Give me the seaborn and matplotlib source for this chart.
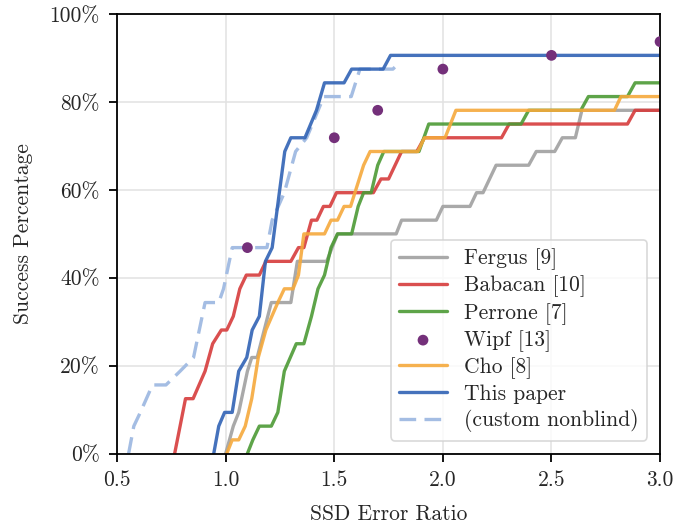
import matplotlib
matplotlib.use('Agg')
import matplotlib.pyplot as plt
import seaborn as sns
import numpy as np

# success percentage curves (corner points)
fergus_x = [1.00, 1.035, 1.06, 1.10, 1.12, 1.145, 1.21, 1.30, 1.33, 1.465, 1.515, 1.785, 1.81, 1.97, 2.0,
            2.125, 2.155, 2.185, 2.245, 2.395, 2.43, 2.515, 2.55, 2.61, 2.64, 3.0]
fergus_y = [0, 6.25, 9.375, 18.75, 21.875, 21.875, 34.375, 34.375, 43.75, 43.75, 50, 50, 53.125, 53.125, 56.25,
            56.25, 59.375, 59.375, 65.625, 65.625, 68.75, 68.75, 71.875, 71.875, 78.125, 78.125]

babacan_x = [0.765, 0.815, 0.85, 0.905, 0.94, 0.98, 1.005, 1.035, 1.065, 1.095, 1.155, 1.185, 1.30, 1.335,
             1.36, 1.395, 1.42, 1.45, 1.48, 1.51, 1.68, 1.715, 1.75, 1.81, 1.88, 1.915, 2.27, 2.305, 2.85,
             2.885, 3.0]
babacan_y = [0, 12.5, 12.5, 18.75, 25, 28.125, 28.125, 31.25, 37.5, 40.625, 40.625, 43.75, 43.75, 46.875,
             46.875, 53.125, 53.125, 56.25, 56.25, 59.375, 59.375, 62.5, 62.5, 68.75, 68.75, 71.875, 71.875,
             75, 75, 78.125, 78.125]

perrone_x = [1.10, 1.125, 1.155, 1.21, 1.24, 1.27, 1.325, 1.36, 1.395, 1.425, 1.455, 1.485, 1.515, 1.58,
             1.61, 1.635, 1.67, 1.70, 1.728, 1.89, 1.935, 2.36, 2.395, 2.635, 2.67, 2.85, 2.885, 3.0]
perrone_y = [0, 3.125, 6.25, 6.25, 9.375, 18.75, 25, 25, 31.25, 37.5, 40.625, 46.875, 50, 50,
             56.25, 59.375, 59.375, 65.625, 68.75, 68.75, 75, 75, 78.125, 78.125, 81.25, 81.25, 84.375, 84.375]

wipf_x = [1.1, 1.5, 1.7, 2.0, 2.5, 3.0]
wipf_y = [46.875, 71.875, 78.125, 87.5, 90.625, 93.75]

cho_x = [1.005, 1.03, 1.06, 1.09, 1.12, 1.15, 1.185, 1.24, 1.27, 1.31, 1.335, 1.36, 1.455, 1.485, 1.515,
         1.545, 1.575, 1.635, 1.665, 1.885, 1.915, 2.01, 2.06, 2.79, 2.82, 3.0]
cho_y = [0, 3.125, 3.125, 6.25, 12.5, 21.875, 28.125, 34.375, 37.5, 37.5, 40.625, 50, 50, 53.125, 53.125,
         56.25, 56.25, 65.625, 68.75, 68.75, 71.875, 71.875, 78.125, 78.125, 81.25, 81.25]

ours_x = [0.945, 0.968, 0.995, 1.03, 1.06, 1.097, 1.122, 1.155, 1.183, 1.214, 1.247, 1.272, 1.30, 1.365,
          1.418, 1.455, 1.545, 1.58, 1.725, 1.759, 3.0]
ours_y = [0, 6.25, 9.375, 9.375, 18.75, 21.875, 28.125, 31.25, 43.75, 46.875, 59.375, 68.75, 71.875, 71.875,
          78.125, 84.375, 84.375, 87.5, 87.5, 90.625, 90.625]

custom_x = [0.553, 0.577, 0.607, 0.663, 0.725, 0.79, 0.852, 0.905, 0.968, 0.99, 1.03, 1.19, 1.214, 1.27,
            1.322, 1.373, 1.452, 1.578, 1.618, 1.77, 1.80]
custom_y = [0, 6.25, 9.375, 15.625, 15.625, 18.75, 21.875, 34.375, 34.375, 37.5, 46.875, 46.875, 53.125,
            59.375, 68.75, 71.875, 81.25, 81.25, 87.5, 87.5, 89.0]

x_ticks = [0.5, 1.0, 1.5, 2.0, 2.5, 3.0]
y_ticks = [0, 20, 40, 60, 80, 100]
y_ticklabels = ['0%', '20%', '40%', '60%', '80%', '100%']

sns.set_style('whitegrid')
plt.rcParams['font.family'] = ['cmr10', 'DejaVu Serif']
plt.rcParams['mathtext.fontset'] = 'cm'
plt.rcParams['axes.formatter.use_mathtext'] = True
fs = 15.5

fig = plt.figure(figsize=(6.97, 5.25), dpi=100)
ax = fig.add_axes([0.168, 0.136, 0.779, 0.837])

lw = 2.4
a = 0.9
curves = [
    (fergus_x, fergus_y, '#a0a0a0', 'Fergus [9]'),
    (babacan_x, babacan_y, '#d63c3c', 'Babacan [10]'),
    (perrone_x, perrone_y, '#4c9a35', 'Perrone [7]'),
]
handles = []
for xs, ys, c, lab in curves:
    sns.lineplot(x=xs, y=ys, estimator=None, sort=False, color=c, lw=lw, alpha=a, ax=ax, label=lab)
    handles.append(ax.lines[-1])

sns.scatterplot(x=wipf_x, y=wipf_y, color='#74307a', s=60, edgecolor='none', ax=ax, label='Wipf [13]',
                zorder=5)
handles.append(ax.collections[-1])

sns.lineplot(x=cho_x, y=cho_y, estimator=None, sort=False, color='#f5a93c', lw=lw, alpha=a, ax=ax,
             label='Cho [8]')
handles.append(ax.lines[-1])
sns.lineplot(x=custom_x, y=custom_y, estimator=None, sort=False, color='#a4bde3', lw=lw, alpha=1.0, ax=ax,
             label='(custom nonblind)')
dash_line = ax.lines[-1]
dash_line.set_dashes([5, 2.5])
sns.lineplot(x=ours_x, y=ours_y, estimator=None, sort=False, color='#3163b5', lw=lw, alpha=a, ax=ax,
             label='This paper')
handles.append(ax.lines[-1])
handles.append(dash_line)

ax.set_xlim(0.5, 3.0)
ax.set_ylim(0, 100)
ax.set_xticks(x_ticks)
ax.set_xticklabels([f'{t:.1f}' for t in x_ticks], fontsize=fs)
ax.set_yticks(y_ticks)
ax.set_yticklabels(y_ticklabels, fontsize=fs)
ax.set_xlabel('SSD Error Ratio', fontsize=fs, labelpad=10)
ax.set_ylabel('Success Percentage', fontsize=fs, labelpad=12)
ax.grid(True, color='#e2e2e2', lw=1.1)
for s in ax.spines.values():
    s.set_color('black')
    s.set_linewidth(1.3)
ax.tick_params(axis='both', which='major', direction='out', length=5.5, width=1.3, color='black',
               left=True, bottom=True, pad=7)

leg = ax.legend(handles=handles, labels=[h.get_label() for h in handles], loc='lower right',
                fontsize=fs, labelspacing=0.25, handlelength=2.2, handletextpad=0.8,
                borderaxespad=0.6, framealpha=0.8, edgecolor='#d0d0d0', fancybox=True)
leg.get_frame().set_linewidth(1.2)

fig.savefig('out.png', dpi=100)
